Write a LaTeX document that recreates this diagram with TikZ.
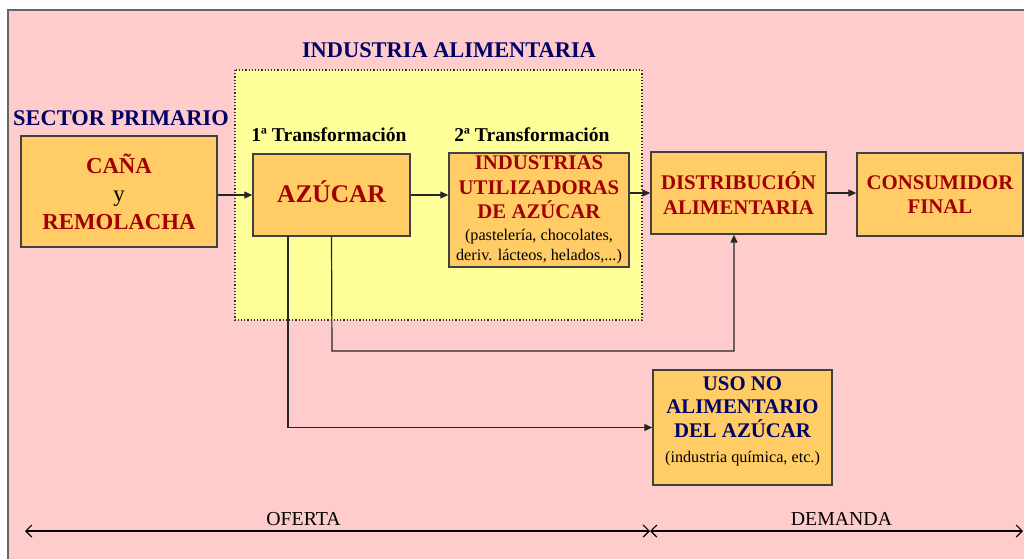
\documentclass[tikz,border=0pt]{standalone}
\usepackage{fontspec}
\setmainfont{Liberation Serif}
\usetikzlibrary{arrows.meta,positioning}
\definecolor{fondo}{HTML}{FFCCCC}
\definecolor{amarillo}{HTML}{FFFF99}
\definecolor{naranja}{HTML}{FFCC66}
\definecolor{granate}{HTML}{A00000}
\definecolor{marino}{HTML}{000066}
\newcommand{\detalle}[1]{{\color{black}\mdseries\fontsize{8.1}{9.5}\selectfont #1}}

\begin{document}
\begin{tikzpicture}[
    x=0.5pt, y=-0.5pt,
    caja/.style={draw=black!75, line width=0.7pt, fill=naranja, align=center, inner sep=0pt},
    rojo/.style={text=granate, font=\fontsize{10.4}{12.2}\selectfont\bfseries},
    azul/.style={text=marino, font=\fontsize{10.4}{11.8}\selectfont\bfseries},
    titulo/.style={text=marino, font=\fontsize{11.2}{13}\selectfont\bfseries},
    fase/.style={font=\fontsize{9.8}{12}\selectfont\bfseries},
    nota/.style={font=\fontsize{9.9}{12}\selectfont},
    flecha/.style={-{Triangle[length=4pt,width=3.5pt]}, line width=0.6pt, draw=black!85},
    eje/.style={{Straight Barb[length=3pt,width=6pt]}-{Straight Barb[length=3pt,width=6pt]}, line width=0.6pt}
]
\useasboundingbox (0,0) rectangle (1024,558);
\fill[fondo, draw=black!60, line width=0.8pt] (8,10) rectangle (1060,590);
\draw[densely dotted, fill=amarillo, line width=0.6pt, draw=black!80] (235,70) rectangle (642,320);

% titulos
\node[titulo] (tind) at (449,50) {INDUSTRIA ALIMENTARIA};
\node[titulo] (tsec) at (121,118) {SECTOR PRIMARIO};
\node[fase] (f1) at (329,135) {1ª Transformación};
\node[fase] (f2) at (532,135) {2ª Transformación};

% cajas
\node[caja, rojo, minimum width=98pt, minimum height=55.5pt, font=\fontsize{11.4}{14}\selectfont\bfseries] (cana) at (119,191.5)
    {CAÑA\\{\color{black}\mdseries y}\\REMOLACHA};
\node[caja, rojo, minimum width=78.5pt, minimum height=41pt, font=\fontsize{12.7}{14}\selectfont\bfseries] (azucar) at (331.5,195)
    {\raisebox{3.5pt}{AZÚCAR}};
\node[caja, rojo, minimum width=90pt, minimum height=57pt] (ind) at (539,210)
    {INDUSTRIAS\\UTILIZADORAS\\DE AZÚCAR\\[-1.5pt]
     \detalle{(pastelería, chocolates,}\\[-2pt]\detalle{deriv. lácteos, helados,...)}};
\node[caja, rojo, minimum width=87.5pt, minimum height=41pt] (dist) at (738.5,193)
    {DISTRIBUCIÓN\\ALIMENTARIA};
\node[caja, rojo, minimum width=83pt, minimum height=41.5pt] (cons) at (940,194.5)
    {CONSUMIDOR\\FINAL};
\node[caja, azul, minimum width=89.5pt, minimum height=57.5pt] (uso) at (742.5,427.5)
    {USO NO\\ALIMENTARIO\\DEL AZÚCAR\\[1pt]
     \detalle{(industria química, etc.)}\\[-4pt]\mbox{}};

% flechas
\draw[flecha] (cana.east |- azucar.west) -- (azucar.west);
\draw[flecha] (azucar.east) -- (azucar.east -| ind.west);
\draw[flecha] (ind.east |- dist.west) -- (dist.west);
\draw[flecha] (dist.east) -- (dist.east -| cons.west);
\coordinate (codo1) at (332,351);
\coordinate (codo2) at (288,427.5);
\coordinate (codo3) at (734,351);
\draw[flecha] (azucar.south) -- (codo1) -- (codo3) -- (codo3 |- dist.south);
\draw[flecha] (azucar.south -| codo2) -- (codo2) -- (uso.west);

% oferta y demanda
\coordinate (ejeL) at (25,531);
\coordinate (ejeM) at (650,531);
\coordinate (ejeR) at (1023,531);
\draw[eje] (ejeL) -- node[nota, above=-1pt, xshift=-17pt] (oferta) {OFERTA} (ejeM);
\draw[eje] (ejeM) -- node[nota, above=-1pt, xshift=2.5pt] (demanda) {DEMANDA} (ejeR);
\end{tikzpicture}
\end{document}
